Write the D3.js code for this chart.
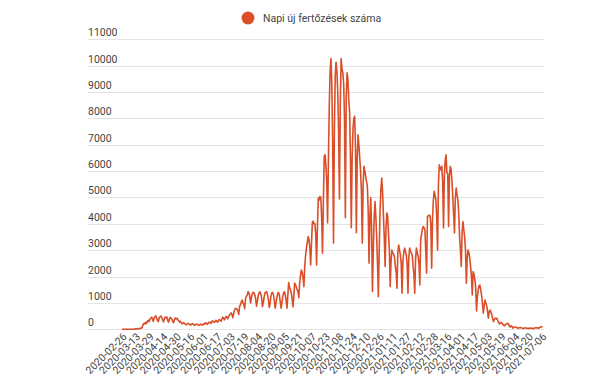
<!DOCTYPE html>
<html lang="hu">
<head>
    <meta charset="UTF-8">
    <title>Napi új fertőzések száma</title>
    <style>
        body { margin: 0; background: #fff; }
        #chart { display: block; font-family: Roboto, "Noto Sans", sans-serif; }
        .grid line { stroke: #e3e3e3; stroke-width: 1; }
        .label { fill: #444; font-size: 10.5px; }
    </style>
</head>
<body>
    <svg id="chart" width="607" height="385"></svg>

    <script src="https://d3js.org/d3.v7.min.js"></script>
    <script>
        // daily new cases, one array per month (first day: 2020-02-26)
        const startDate = "2020-02-26";
        const feb2020 = [1, 0, 0, 2];
        const mar2020 = [0, 0, 3, 0, 1, 2, 0, 3, 2, 4, 0, 11, 15, 17, 22, 33, 18, 30, 47, 39, 90, 180, 230, 200, 260, 220, 310, 340, 290, 380, 420];
        const apr2020 = [460, 390, 300, 430, 480, 510, 420, 330, 290, 450, 470, 500, 440, 360, 280, 400, 460, 430, 470, 330, 270, 390, 450, 420, 380, 300, 250, 370, 430, 390];
        const may2020 = [420, 360, 330, 270, 300, 260, 210, 230, 250, 220, 190, 170, 200, 230, 210, 180, 160, 190, 220, 200, 170, 150, 180, 200, 190, 160, 150, 170, 190, 180, 160];
        const jun2020 = [200, 180, 230, 250, 210, 190, 240, 270, 250, 220, 290, 320, 280, 260, 300, 340, 310, 270, 330, 370, 350, 300, 380, 460, 430, 360, 420, 490, 460, 400];
        const jul2020 = [470, 540, 580, 620, 560, 440, 600, 720, 800, 780, 760, 700, 560, 880, 920, 1050, 1110, 1000, 950, 780, 1150, 1250, 1300, 1430, 1380, 1250, 1000, 1200, 1350, 1400, 1380];
        const aug2020 = [1300, 1150, 880, 1050, 1280, 1380, 1420, 1350, 1200, 860, 1000, 1230, 1390, 1410, 1430, 1300, 1150, 830, 950, 1250, 1380, 1400, 1320, 1100, 800, 980, 1200, 1350, 1400, 1300, 1050];
        const sep2020 = [800, 1000, 1250, 1380, 1430, 1300, 1100, 800, 1300, 1770, 1600, 1500, 1400, 1200, 860, 1200, 1750, 1700, 1600, 1500, 1450, 1200, 1750, 2050, 2250, 2150, 1950, 1620, 2400, 2800];
        const oct2020 = [3080, 3300, 3520, 3400, 3100, 2440, 3300, 4050, 4100, 4000, 4000, 3600, 2440, 3900, 4980, 4900, 5040, 5000, 4200, 2890, 4800, 6560, 6620, 6200, 5600, 4030, 6500, 8500, 9800, 10270, 9300];
        const nov2020 = [7000, 3270, 7500, 9600, 10130, 9800, 9000, 7500, 4940, 8500, 10270, 9900, 9730, 9300, 8000, 4230, 8800, 9730, 9500, 8700, 8270, 6500, 3850, 6500, 7600, 8000, 8080, 6800, 3660, 6500];
        const dec2020 = [7380, 7000, 6500, 6000, 5200, 3270, 5500, 6180, 6000, 5800, 5600, 5420, 4500, 2510, 4200, 5000, 3800, 1430, 3000, 4200, 4850, 4300, 3500, 2500, 1240, 3000, 4500, 5300, 5740, 5200, 4300];
        const jan2021 = [3500, 2380, 3800, 4410, 4300, 3600, 3000, 1620, 2600, 3010, 2900, 2850, 2760, 2400, 2200, 1560, 2900, 3200, 3000, 2820, 2500, 1370, 2600, 2900, 3080, 2950, 2820, 2500, 1370, 2700, 3080];
        const feb2021 = [2950, 2900, 2820, 2400, 2100, 1370, 2700, 3080, 2900, 2760, 2500, 1680, 3390, 3600, 3800, 3900, 3850, 3770, 3000, 2130, 4280, 4300, 4340, 4300, 4000, 2320, 4200, 4900];
        const mar2021 = [5230, 5100, 4910, 4200, 3010, 5500, 6240, 6100, 6050, 6180, 5600, 3840, 5800, 6400, 6620, 5930, 5900, 3900, 5800, 6180, 6050, 5600, 5000, 4300, 3650, 5000, 5360, 5100, 4910, 4400, 3500];
        const apr2021 = [3000, 2380, 3700, 4090, 3770, 3500, 3000, 1750, 2700, 3010, 2900, 2700, 2400, 2000, 1300, 2190, 2100, 1900, 1600, 700, 1200, 1500, 1650, 1680, 1500, 1300, 1000, 610, 900, 1110];
        const may2021 = [1000, 900, 700, 420, 650, 730, 650, 560, 420, 290, 380, 420, 400, 420, 340, 280, 200, 230, 260, 240, 190, 160, 130, 170, 200, 210, 230, 180, 120, 90, 130];
        const jun2021 = [110, 40, 70, 90, 85, 75, 60, 35, 55, 70, 65, 60, 45, 30, 40, 55, 50, 45, 40, 25, 35, 50, 45, 40, 35, 20, 40, 55, 50, 60];
        const jul2021 = [55, 40, 60, 80, 90, 100, 95];

        // labelled dates on the x axis (every 16th day)
        const tickLabels = ["2020-02-26", "2020-03-13", "2020-03-29", "2020-04-14", "2020-04-30", "2020-05-16",
            "2020-06-01", "2020-06-17", "2020-07-03", "2020-07-19", "2020-08-04", "2020-08-20", "2020-09-05",
            "2020-09-21", "2020-10-07", "2020-10-23", "2020-11-08", "2020-11-24", "2020-12-10", "2020-12-26",
            "2021-01-11", "2021-01-27", "2021-02-12", "2021-02-28", "2021-03-16", "2021-04-01", "2021-04-17",
            "2021-05-03", "2021-05-19", "2021-06-04", "2021-06-20", "2021-07-06"];
        const yTicks = [0, 1000, 2000, 3000, 4000, 5000, 6000, 7000, 8000, 9000, 10000, 11000];
        const seriesName = "Napi új fertőzések száma";

        const values = [].concat(feb2020, mar2020, apr2020, may2020, jun2020, jul2020, aug2020, sep2020,
            oct2020, nov2020, dec2020, jan2021, feb2021, mar2021, apr2021, may2021, jun2021, jul2021);

        // one date string per value
        const fmt = d3.timeFormat("%Y-%m-%d");
        const first = d3.timeParse("%Y-%m-%d")(startDate);
        const data = values.map((v, i) => ({ date: fmt(d3.timeDay.offset(first, i)), value: v }));

        const color = "#da4f29";
        const svg = d3.select("#chart");

        const x = d3.scalePoint().domain(data.map(d => d.date)).range([122, 542.5]);
        const y = d3.scaleLinear().domain([0, 11000]).range([329.3, 39.3]);

        // horizontal grid lines
        svg.append("g").attr("class", "grid")
            .selectAll("line").data(yTicks).join("line")
            .attr("x1", 88).attr("x2", 544)
            .attr("y1", d => Math.round(y(d)) + 0.5).attr("y2", d => Math.round(y(d)) + 0.5);

        // y labels sit on top of their grid line
        svg.append("g")
            .selectAll("text").data(yTicks).join("text")
            .attr("class", "label")
            .attr("x", 88)
            .attr("y", d => y(d) - 3)
            .text(d => d);

        // x axis, rotated labels
        const xAxis = svg.append("g")
            .attr("transform", `translate(0, ${y(0)})`)
            .call(d3.axisBottom(x).tickValues(tickLabels).tickSize(0));
        xAxis.select(".domain").remove();
        xAxis.selectAll("text")
            .attr("class", "label")
            .attr("fill", null)
            .attr("y", 0).attr("dy", null)
            .attr("text-anchor", "end")
            .attr("transform", "translate(5,8) rotate(-45)");
        xAxis.attr("font-family", null).attr("font-size", null);

        // the series line
        const line = d3.line().x(d => x(d.date)).y(d => y(d.value));
        svg.append("path")
            .datum(data)
            .attr("fill", "none")
            .attr("stroke", color)
            .attr("stroke-width", 1.6)
            .attr("stroke-linejoin", "round")
            .attr("d", line);

        // legend
        svg.append("circle").attr("cx", 248).attr("cy", 18).attr("r", 6.5).attr("fill", color);
        svg.append("text").attr("class", "label").attr("x", 263).attr("y", 21.5)
            .style("font-size", "10.5px").text(seriesName);
    </script>
</body>
</html>
